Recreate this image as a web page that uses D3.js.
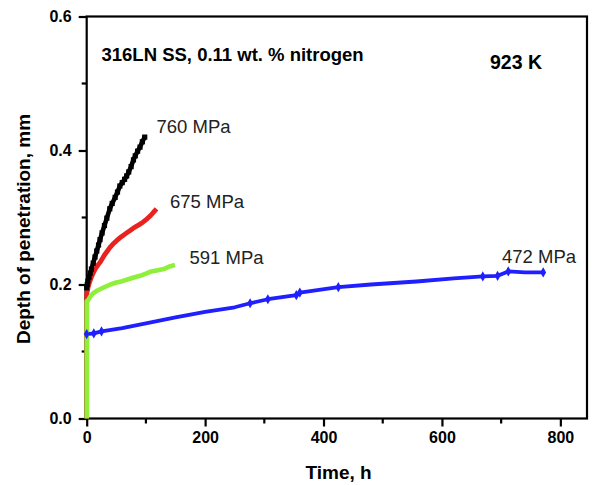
<!DOCTYPE html>
<html>
<head>
<meta charset="utf-8">
<script src="https://cdn.jsdelivr.net/npm/d3@7"></script>
<style>
  html, body { margin: 0; padding: 0; background: #fff; }
  svg { display: block; font-family: "Liberation Sans", Arial, sans-serif; }
</style>
</head>
<body>
<svg id="chart" width="597" height="485"></svg>
<script>
// Creep curves of 316LN SS (0.11 wt.% N) at 923 K: depth of penetration vs time
const xTicks = [0, 200, 400, 600, 800];
const xMinorTicks = [100, 300, 500, 700];
const yTicks = [0.0, 0.2, 0.4, 0.6];
const yMinorTicks = [0.1, 0.3, 0.5];

// [time h, depth mm]
const s760 = [[0,0],[0,0.195],[1,0.2],[2,0.205],[4,0.211],[6,0.217],[8,0.223],[11,0.232],[14,0.241],[17,0.25],[20,0.259],[22.5,0.267],[26,0.277],[30,0.288],[34,0.299],[39,0.313],[43,0.321],[48,0.33],[52,0.338],[56,0.347],[60,0.352],[64,0.357],[67.5,0.362],[71,0.368],[75,0.376],[79,0.386],[82,0.392],[86,0.399],[90,0.405],[94,0.413],[98,0.42]];
const s675 = [[0,0],[0,0.185],[1,0.19],[2.7,0.197],[5,0.204],[8.4,0.212],[12,0.219],[15,0.224],[19,0.229],[22.5,0.233],[26,0.238],[30,0.244],[35,0.25],[39,0.255],[44,0.26],[50,0.265],[58,0.271],[67.5,0.277],[74,0.281],[80,0.285],[88,0.289],[95,0.293],[102,0.298],[108,0.303],[113,0.308],[118,0.313]];
const s591 = [[0,0],[0,0.175],[2.7,0.177],[6,0.182],[11,0.187],[18,0.191],[25,0.194],[32,0.197],[40,0.2],[50,0.203],[60,0.205],[67.5,0.207],[78,0.21],[90,0.213],[99,0.216],[107,0.219],[118,0.221],[130,0.223],[140,0.227],[149,0.229]];
const s472 = [[0,0],[0,0.126],[12,0.127],[25,0.13],[60,0.135],[100,0.142],[150,0.151],[200,0.159],[250,0.166],[276,0.172],[306,0.178],[354,0.184],[360,0.188],[425,0.196],[480,0.2],[557,0.2045],[620,0.209],[669,0.212],[694,0.213],[712,0.2195],[740,0.218],[771,0.218]];
const s472Marks = [0, 12, 25, 276, 306, 354, 360, 425, 669, 694, 712, 771];

const series = [
  { name: "472 MPa", data: s472, color: "#1f1fff", width: 3.8, lx: 502, ly: 262.5 },
  { name: "760 MPa", data: s760, color: "#000000", width: 4.6, lx: 156.5, ly: 133 },
  { name: "675 MPa", data: s675, color: "#e8231f", width: 4.8, lx: 170, ly: 208 },
  { name: "591 MPa", data: s591, color: "#8ef03a", width: 4.6, lx: 189.5, ly: 264 }
];

const svg = d3.select("#chart");
const plotLeft = 86.7, plotRight = 587, plotTop = 16.5, plotBottom = 418.5;

const x = d3.scaleLinear().domain([0, 845]).range([plotLeft, plotRight]);
const y = d3.scaleLinear().domain([0, 0.6]).range([plotBottom, plotTop]);

// frame
svg.append("rect")
  .attr("x", plotLeft).attr("y", plotTop)
  .attr("width", plotRight - plotLeft).attr("height", plotBottom - plotTop)
  .attr("fill", "none").attr("stroke", "#000").attr("stroke-width", 2.2);

// axes with major ticks outside
const xAxis = d3.axisBottom(x).tickValues(xTicks).tickFormat(d3.format("d")).tickSize(8).tickSizeOuter(0);
const gx = svg.append("g").attr("transform", `translate(0,${plotBottom})`).call(xAxis);
const yAxis = d3.axisLeft(y).tickValues(yTicks).tickFormat(d3.format(".1f")).tickSize(8).tickSizeOuter(0);
const gy = svg.append("g").attr("transform", `translate(${plotLeft},0)`).call(yAxis);

[gx, gy].forEach(g => {
  g.select(".domain").remove();
  g.selectAll(".tick line").attr("stroke", "#000").attr("stroke-width", 2.2);
  g.selectAll(".tick text").attr("fill", "#000")
    .style("font-size", "16px").style("font-weight", "bold")
    .style("font-family", "'Liberation Sans', Arial, sans-serif");
});
gx.selectAll(".tick text").attr("y", 13);
gy.selectAll(".tick text").attr("x", -15);

// minor ticks
svg.append("g").selectAll("line").data(xMinorTicks).join("line")
  .attr("x1", d => x(d)).attr("x2", d => x(d))
  .attr("y1", plotBottom).attr("y2", plotBottom + 5)
  .attr("stroke", "#000").attr("stroke-width", 2.2);
svg.append("g").selectAll("line").data(yMinorTicks).join("line")
  .attr("x1", plotLeft - 5).attr("x2", plotLeft)
  .attr("y1", d => y(d)).attr("y2", d => y(d))
  .attr("stroke", "#000").attr("stroke-width", 2.2);

// axis titles
svg.append("text")
  .attr("x", 305.5).attr("y", 479)
  .style("font-size", "19px").style("font-weight", "bold")
  .text("Time, h");
svg.append("text")
  .attr("transform", "translate(30,229) rotate(-90)")
  .attr("text-anchor", "middle")
  .style("font-size", "19px").style("font-weight", "bold")
  .text("Depth of penetration, mm");

// annotations
svg.append("text")
  .attr("x", 101.5).attr("y", 60.5)
  .style("font-size", "18.5px").style("font-weight", "bold")
  .text("316LN SS, 0.11 wt. % nitrogen");
svg.append("text")
  .attr("x", 490).attr("y", 68.5)
  .style("font-size", "19.5px").style("font-weight", "bold")
  .text("923 K");

// curves
const line = d3.line().x(d => x(d[0])).y(d => y(d[1]));
series.forEach(s => {
  svg.append("path")
    .datum(s.data)
    .attr("d", line)
    .attr("fill", "none")
    .attr("stroke", s.color)
    .attr("stroke-width", s.width)
    .attr("stroke-linejoin", "round");
  svg.append("text")
    .attr("x", s.lx).attr("y", s.ly)
    .attr("fill", "#222")
    .style("font-size", "18.5px")
    .text(s.name);
});

// square markers on the 760 MPa curve
svg.append("g").selectAll("rect").data(s760.slice(1)).join("rect")
  .attr("x", d => x(d[0]) - 2.6).attr("y", d => y(d[1]) - 2.6)
  .attr("width", 5.2).attr("height", 5.2)
  .attr("fill", "#000");

// diamond markers on the 472 MPa curve
svg.append("g").selectAll("path")
  .data(s472.filter(d => d[1] > 0 && s472Marks.includes(d[0])))
  .join("path")
  .attr("d", d3.symbol(d3.symbolDiamond, 30))
  .attr("transform", d => `translate(${x(d[0])},${y(d[1])})`)
  .attr("fill", "#1f1fff");
</script>
</body>
</html>
